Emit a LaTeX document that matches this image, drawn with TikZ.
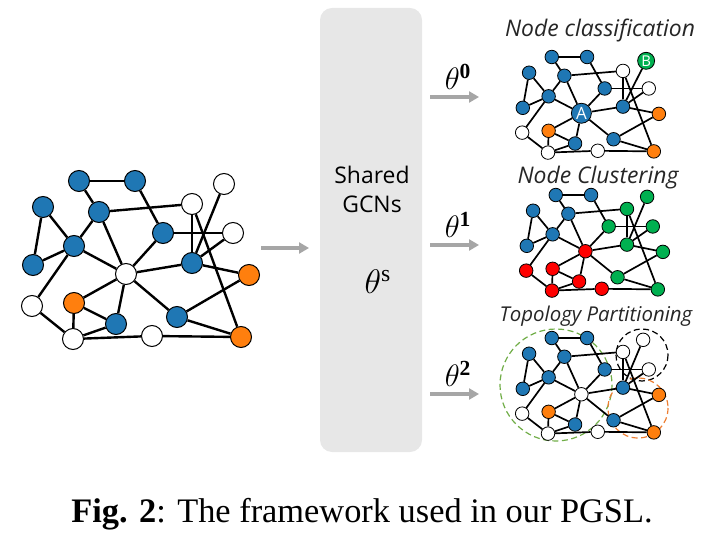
\documentclass[tikz,border=0pt]{standalone}
\usepackage{fontspec}
\setmainfont{Liberation Serif}
\setsansfont{Open Sans}
\usetikzlibrary{arrows.meta}

\definecolor{nodeblue}{HTML}{1F77B4}
\definecolor{nodeorange}{HTML}{FF7F0E}
\definecolor{nodegreen}{HTML}{00B050}
\definecolor{nodered}{HTML}{FF0000}
\definecolor{boxgray}{HTML}{E7E7E7}
\definecolor{arrowgray}{HTML}{A6A6A6}
\definecolor{ringgreen}{HTML}{70AD47}
\definecolor{ringorange}{HTML}{ED7D31}

% positions of the input graph
\newcommand{\graphpoints}[1]{%
 \foreach \i/\x/\y in {1/79/181, 2/135/181, 3/43/207, 4/99/212, 5/192/204,
   6/224/184, 7/163/233, 8/233/233, 9/74/246, 10/33/265, 11/192/263,
   12/126/274, 13/249/275, 14/32/306, 15/74/303, 16/116/324, 17/177/317,
   18/152/336, 19/73/339, 20/241/337}
   \coordinate (#1\i) at (\x,\y);}

% edges of the input graph
\newcommand{\graphedges}[2]{%
 \foreach \a/\b in {1/2, 1/4, 2/7, 3/9, 3/10, 9/10, 4/9, 4/5, 4/12, 9/12,
   7/8, 7/12, 5/11, 5/20, 6/11, 8/11, 11/12, 11/13, 12/15, 12/16, 12/17,
   13/17, 17/20, 15/19, 15/16, 14/9, 14/19, 19/16, 19/18, 18/20}
   \draw[#2] (#1\a) -- (#1\b);}

% original colours
\newcommand{\basecolours}{1/nodeblue, 2/nodeblue, 3/nodeblue, 4/nodeblue,
  5/white, 6/white, 7/nodeblue, 8/white, 9/nodeblue, 10/nodeblue,
  11/nodeblue, 12/white, 13/nodeorange, 14/white, 15/nodeorange,
  16/nodeblue, 17/nodeblue, 18/white, 19/white, 20/nodeorange}

\begin{document}
\begin{tikzpicture}[x=1bp, y=-1bp,
  big/.style={circle, draw=black, line width=1bp, minimum size=21bp, inner sep=0pt},
  small/.style={circle, draw=black, line width=0.8bp, minimum size=13.5bp, inner sep=0pt},
  bigedge/.style={line width=2.4bp},
  smalledge/.style={line width=1.7bp},
  flow/.style={arrowgray, line width=3.5bp, -{Triangle[length=10bp, width=11bp]}},
  ring/.style={line width=1.2bp, dash pattern=on 6bp off 3.5bp},
  task/.style={text=black!85, font=\sffamily\itshape\fontsize{23}{26}\selectfont},
  theta/.style={font=\fontsize{20.74}{24}\selectfont, scale=1.5}]

 \useasboundingbox (0,0) rectangle (711,538);

 % input graph
 \graphpoints{P}
 \foreach \i/\c in \basecolours
   \node[big, fill=\c] (g\i) at (P\i) {};
 \graphedges{g}{bigedge}

 % shared encoder
 \node[fill=boxgray, rounded corners=12bp, minimum width=102bp,
   minimum height=444bp, inner sep=0pt] (gcn) at (371,230) {};
 \node[font=\sffamily\fontsize{23}{29}\selectfont, align=center] (gcntxt)
   at (372,189) {Shared\\GCNs};
 \node[theta, scale=1.1] (thetas) at (378,282) {$\theta^{\mathrm{s}}$};

 % arrows
 \coordinate (in0) at (261,248);
 \coordinate (in1) at (309,248);
 \draw[flow] (in0) -- (in1);
 \foreach \k/\y in {0/97, 1/245, 2/394} {
   \coordinate (out\k a) at (430,\y);
   \coordinate (out\k b) at (479,\y);
   \draw[flow] (out\k a) -- (out\k b);
   \node[theta] (theta\k) at (458,\y-20) {$\theta^{\mathbf{\k}}$};
 }

 % node classification
 \node[task] (lblcls) at (600,30) {Node classification};
 \begin{scope}[shift={(502,-52.5)}, xscale=0.63, yscale=0.605]
   \graphpoints{C}
 \end{scope}
 \foreach \i/\c in {1/nodeblue, 2/nodeblue, 3/nodeblue, 4/nodeblue,
   5/white, 7/nodeblue, 8/white, 9/nodeblue, 10/nodeblue, 11/nodeblue,
   13/nodeorange, 14/white, 15/nodeorange, 16/nodeblue, 17/nodeblue,
   18/white, 19/white, 20/nodeorange}
   \node[small, fill=\c] (c\i) at (C\i) {};
 \node[small, fill=nodeblue, minimum size=20bp, text=white,
   font=\sffamily\fontsize{17}{17}\selectfont] (c12) at (C12) {A};
 \node[small, fill=nodegreen, minimum size=17bp, text=white,
   font=\sffamily\fontsize{15}{15}\selectfont] (c6) at ([shift={(3,2)}]C6) {B};
 \graphedges{c}{smalledge}

 % node clustering
 \node[task] (lblclu) at (598,178) {Node Clustering};
 \begin{scope}[shift={(506,85.5)}, xscale=0.63, yscale=0.605]
   \graphpoints{K}
 \end{scope}
 \foreach \i/\c in {1/nodeblue, 2/nodeblue, 3/nodeblue, 4/nodeblue,
   5/nodegreen, 6/nodegreen, 7/nodegreen, 8/nodegreen, 9/nodeblue,
   10/nodeblue, 11/nodegreen, 12/nodered, 13/nodegreen, 14/nodered,
   15/nodered, 16/nodered, 17/nodegreen, 18/nodered, 19/nodered,
   20/nodegreen}
   \node[small, fill=\c] (k\i) at (K\i) {};
 \graphedges{k}{smalledge}

 % topology partitioning
 \node[task, font=\sffamily\itshape\fontsize{20.5}{23}\selectfont] (lbltop)
   at (596,316) {Topology Partitioning};
 \draw[ring, ringgreen] (556,385) circle[radius=56];
 \draw[ring, black] (642,355) circle[radius=26];
 \draw[ring, ringorange] (638,408) circle[radius=30];
 \begin{scope}[shift={(502,228.5)}, xscale=0.63, yscale=0.605]
   \graphpoints{T}
 \end{scope}
 \foreach \i/\c in \basecolours
   \node[small, fill=\c] (t\i) at (T\i) {};
 \graphedges{t}{smalledge}

 % caption
 \node[font=\fontsize{34.5}{40}\selectfont] (caption) at (362,514)
   {\textbf{Fig. 2}: The framework used in our PGSL.};
\end{tikzpicture}
\end{document}
